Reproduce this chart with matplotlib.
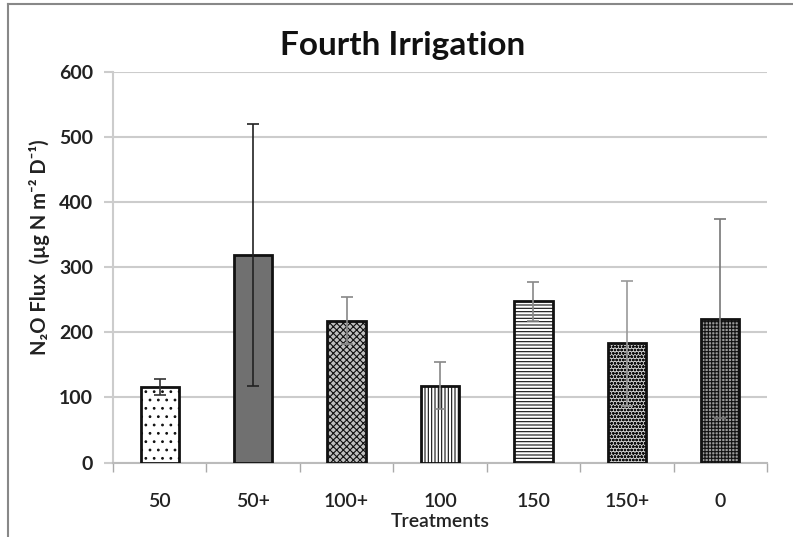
import matplotlib
matplotlib.use("Agg")
import matplotlib.pyplot as plt
from matplotlib.lines import Line2D
import numpy as np

categories = ["50", "50+", "100+", "100", "150", "150+", "0"]
flux = [116, 319, 218, 118, 248, 183, 221]
flux_err = [12, 201, 36, 36, 30, 96, 153]
yticks = [0, 100, 200, 300, 400, 500, 600]

title = "Fourth Irrigation"
xlabel = "Treatments"
ylabel = "N\u2082O Flux  (\u00b5g N m\u207b\u00b2 D\u207b\u00b9)"

faces = ["white", "#707070", "#bfbfbf", "white", "white", "#cfcfcf", "#9a9a9a"]
hatches = ["..", None, "xxxxx", "|||||", "-----", "ooooo", "+++++"]
hatch_cols = ["#a0a0a0", "#707070", "#7a7a7a", "#333333", "#888888", "#9a9a9a", "#222222"]
err_cols = ["#333333", "#222222", "#888888", "#888888", "#888888", "#999999", "#777777"]

plt.rcParams['font.family'] = ['Lato', 'DejaVu Sans']

fig = plt.figure(figsize=(7.93, 5.37), dpi=100)
W, H = 793, 537
ax = fig.add_axes([113 / W, 1 - 462.5 / H, (767 - 113) / W, (462.5 - 72) / H])

x = np.arange(len(categories))
for i in range(len(categories)):
    plt.rcParams['hatch.color'] = hatch_cols[i]
    plt.rcParams['hatch.linewidth'] = 0.8
    ax.bar(x[i], flux[i], width=0.41, color=faces[i], edgecolor="#111111",
           linewidth=2.0, hatch=hatches[i], zorder=3)
    ax.errorbar(x[i], flux[i], yerr=flux_err[i], fmt="none", ecolor=err_cols[i],
                elinewidth=1.2, capsize=4, capthick=1.2, zorder=4)

ax.set_xlim(-0.5, len(categories) - 0.5)
ax.set_ylim(0, 600)
ax.set_yticks(yticks)
ax.set_yticklabels([str(v) for v in yticks], fontsize=14, fontweight="bold", color="#222222")
ax.set_xticks(x)
ax.set_xticklabels(categories, fontsize=14, fontweight="semibold", color="#222222")
ax.set_xticks(np.arange(len(categories) + 1) - 0.5, minor=True)
ax.tick_params(axis="x", which="major", length=0, pad=22)
ax.tick_params(axis="x", which="minor", length=6.5, color="#aaaaaa", width=1)
ax.tick_params(axis="y", length=6.5, color="#cccccc", width=1.5, pad=8)
ax.grid(axis="y", color="#cccccc", linewidth=1.5, zorder=0)
for s in ["top", "right"]:
    ax.spines[s].set_visible(False)
ax.spines["left"].set_color("#cccccc")
ax.spines["left"].set_linewidth(1.5)
ax.spines["bottom"].set_color("#bbbbbb")
ax.spines["bottom"].set_linewidth(1.5)

ax.set_title(title, fontsize=24, fontweight="bold", pad=12, color="#111111",
             x=(403 - 113) / 654)
ax.set_xlabel(xlabel, fontsize=14, fontweight="semibold", labelpad=2, color="#222222")
ax.set_ylabel(ylabel, fontsize=14.5, fontweight="bold", color="#222222")
ax.yaxis.set_label_coords(-0.097, 0.552)

fig.add_artist(Line2D([7.5 / W, 7.5 / W], [0, 1 - 4 / H], color="#888888", linewidth=1.5))
fig.add_artist(Line2D([7.5 / W, 1], [1 - 4 / H, 1 - 4 / H], color="#888888", linewidth=1.5))

fig.savefig("out.png", dpi=100)
